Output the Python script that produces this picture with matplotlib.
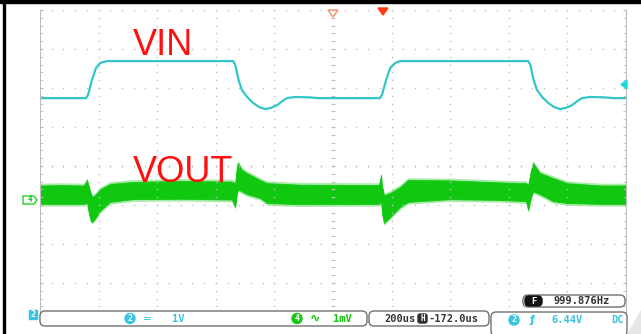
import matplotlib
matplotlib.use("Agg")
import matplotlib.pyplot as plt
import matplotlib.transforms as mtransforms
from matplotlib.patches import FancyBboxPatch, Polygon, Rectangle, Circle
from matplotlib.ticker import MultipleLocator
import numpy as np

W, H = 641, 334

# CH2 (VIN): time in us from screen centre, level in screen divisions
vin_t = [-1000, -843, -836, -823, -809, -795, -771,
         -341, -334, -322, -311, -292, -273, -252, -232, -212, -191, -170, -157, -130, -80, -50,
         160, 167, 181, 195, 212, 229,
         666, 673, 685, 696, 715, 734, 755, 775, 795, 816, 837, 850, 877, 927, 957, 1000]
vin_div = [1.74, 1.74, 1.82, 2.2, 2.51, 2.64, 2.69,
           2.69, 2.6, 2.2, 1.95, 1.76, 1.62, 1.51, 1.46, 1.49, 1.56, 1.68, 1.74, 1.77, 1.76, 1.74,
           1.74, 1.82, 2.2, 2.51, 2.64, 2.69,
           2.69, 2.6, 2.2, 1.95, 1.76, 1.62, 1.51, 1.46, 1.49, 1.56, 1.68, 1.74, 1.77, 1.76, 1.74, 1.74]

# CH4 (VOUT): noise envelope, upper and lower edge in screen divisions
vout_t = [-1000, -932, -850, -840, -836, -829, -823, -812, -795, -761, -683, -522,
          -345, -334, -328, -324, -311, -294, -249, -225, -113,
          157, 164, 167, 174, 195, 229, 256, 399, 570,
          659, 666, 676, 683, 706, 751, 799, 911, 1000]
vout_hi = [-0.50, -0.49, -0.50, -0.36, -0.45, -0.65, -0.79, -0.75, -0.60, -0.46, -0.41, -0.38,
           -0.40, -0.45, 0.00, 0.077, -0.10, -0.18, -0.36, -0.44, -0.48,
           -0.49, -0.23, -0.50, -0.75, -0.69, -0.54, -0.36, -0.37, -0.42,
           -0.44, -0.50, -0.10, 0.077, -0.18, -0.31, -0.44, -0.50, -0.50]
vout_lo = [-0.97, -0.97, -0.97, -0.95, -1.10, -1.35, -1.44, -1.35, -1.15, -0.92, -0.85, -0.84,
           -0.86, -1.05, -0.70, -0.60, -0.65, -0.72, -0.82, -0.95, -0.98,
           -0.97, -0.90, -1.20, -1.46, -1.31, -1.05, -0.92, -0.85, -0.87,
           -0.90, -1.13, -0.80, -0.65, -0.72, -0.90, -0.95, -0.97, -0.97]

CYAN = "#33c6c8"
GREEN = "#10c810"
LABEL_CYAN = "#38c4e0"
GRID = "#bdbdbd"

fig = plt.figure(figsize=(W / 100, H / 100), dpi=100)
fig.patch.set_facecolor("white")
ax = fig.add_axes([40 / W, 12 / H, 586 / W, 312 / H])
ax.set_xlim(-1000, 1000)
ax.set_ylim(-4, 4)

# dotted graticule, 5 dots per division
for gx in np.arange(-800, 801, 200):
    ys = np.arange(-4, 4.01, 0.2)
    ax.plot(np.full_like(ys, gx), ys, ls="none", marker="s", ms=1.0, mew=0, color=GRID)
for gy in np.arange(-4, 5, 1):
    xs = np.arange(-1000, 1001, 40)
    ax.plot(xs, np.full_like(xs, gy, dtype=float), ls="none", marker="s", ms=1.0, mew=0, color=GRID)
# centre cross ticks
ys = np.arange(-4, 4.01, 0.2)
ax.plot(np.zeros_like(ys), ys, ls="none", marker="_", ms=3, mew=0.7, color=GRID)
xs = np.arange(-1000, 1001, 40)
ax.plot(xs, np.zeros_like(xs, dtype=float), ls="none", marker="|", ms=2, mew=0.6, color=GRID)

for side in ("top", "bottom"):
    ax.spines[side].set_visible(False)
for side in ("left", "right"):
    ax.spines[side].set_color(GRID)
    ax.spines[side].set_linewidth(0.8)
ax.yaxis.set_major_locator(MultipleLocator(1))
ax.yaxis.set_minor_locator(MultipleLocator(0.2))
ax.tick_params(which="both", left=True, right=True, bottom=False, top=False,
               direction="in", length=2.5, color=GRID, labelleft=False, labelbottom=False)

# traces: VOUT as a noise band with a soft outer edge
ax.fill_between(vout_t, np.array(vout_lo) - 0.06, np.array(vout_hi) + 0.06,
                color=GREEN, alpha=0.35, lw=0)
ax.fill_between(vout_t, vout_lo, vout_hi, color=GREEN, lw=0.6, edgecolor=GREEN)
ax.plot(vin_t, vin_div, color=CYAN, lw=1.6, solid_joinstyle="round")

ax.text(-683, 2.846, "VIN", color="#ff1010", fontsize=26, family="Liberation Sans", va="baseline")
ax.text(-683, -0.41, "VOUT", color="#ff1010", fontsize=26, family="Liberation Sans", va="baseline")

# overlay elements in pixel coordinates (origin top-left)
pix = mtransforms.Affine2D().scale(1, -1).translate(0, H)


def add(p):
    p.set_transform(pix)
    p.set_clip_on(False)
    fig.add_artist(p)


def txt(x, y, s, color="#333333", size=7.5, **kw):
    kw.setdefault("family", "DejaVu Sans Mono")
    kw.setdefault("weight", "bold")
    fig.text(x, y, s, transform=pix, color=color, fontsize=size, va="center", **kw)


# frame edges
add(Rectangle((0, 0), W, 3, color="black"))
add(Rectangle((3, 0), 2.2, H, color="black"))

# trigger markers
add(Polygon([(328, 10), (338, 10), (333, 17)], closed=True, fill=False, edgecolor="#f2a07a", lw=1.2))
add(Polygon([(378, 8), (388, 8), (383, 15)], closed=True, color="#ff3a10"))
add(Polygon([(627, 80), (627, 89), (621, 84.5)], closed=True, color="#20d8e0"))

# channel reference markers on the left
add(Polygon([(23, 196), (34, 196), (37, 200), (34, 204), (23, 204)], closed=True,
            facecolor="white", edgecolor=GREEN, lw=0.9))
txt(29.5, 200, "4", color=GREEN, size=5.5, ha="center")
add(Rectangle((29, 310), 8, 9, color=LABEL_CYAN))
txt(33, 314.5, "2", color="white", size=6, ha="center")

# bottom status boxes
for x0, y0, x1, y1 in [(40, 311, 367, 326), (369, 311, 489, 326), (491, 312, 627, 336), (523, 295, 625, 307)]:
    add(FancyBboxPatch((x0, y0), x1 - x0, y1 - y0, boxstyle="round,pad=0,rounding_size=5",
                       facecolor="white", edgecolor="#707070", lw=1.0))

add(Circle((130, 318.5), 5, color=LABEL_CYAN))
txt(130, 318.5, "2", color="white", size=6, ha="center")
txt(143, 318.5, "═", color=LABEL_CYAN, size=8, ha="left")
txt(172, 318.5, "1V", color=LABEL_CYAN, size=7.5, ha="left")

add(Circle((297, 318.5), 5, color=GREEN))
txt(297, 318.5, "4", color="white", size=6, ha="center")
txt(310, 318.5, "∿", color=GREEN, size=9, ha="left", family="DejaVu Sans")
txt(333, 318.5, "1mV", color=GREEN, size=7.5, ha="left")

txt(384, 318.5, "200us", size=7.5, ha="left")
add(FancyBboxPatch((418, 314), 9, 9, boxstyle="round,pad=0,rounding_size=2", color="#303030"))
txt(422.5, 318.5, "H", color="white", size=5.5, ha="center")
txt(428, 318.5, "-172.0us", size=7.5, ha="left")

add(Circle((514, 320), 5, color=LABEL_CYAN))
txt(514, 320, "2", color="white", size=6, ha="center")
txt(530, 320, "ƒ", color=LABEL_CYAN, size=8, ha="left", family="DejaVu Sans")
txt(551, 320, "6.44V", color=LABEL_CYAN, size=7.5, ha="left")
txt(611, 320, "DC", color=LABEL_CYAN, size=7.5, ha="left")

add(FancyBboxPatch((525, 296), 17, 10, boxstyle="round,pad=0,rounding_size=4", color="#111111"))
txt(533.5, 301, "F", color="white", size=6.5, ha="center")
txt(554, 301, "999.876Hz", size=7.5, ha="left")

# folded corner at bottom right
add(Polygon([(628, H), (W, 311), (W, H)], closed=True, color="#e6e6e6"))

fig.savefig("out.png", dpi=100)
